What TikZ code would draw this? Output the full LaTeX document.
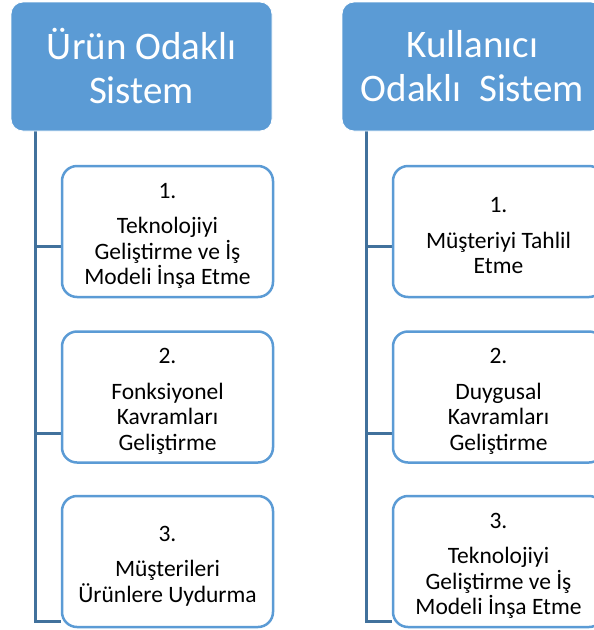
\documentclass[tikz,border=0pt]{standalone}
\usepackage{fontspec}
\setmainfont{Carlito}
\usetikzlibrary{backgrounds}
\definecolor{hdrblue}{HTML}{5B9BD5}
\definecolor{connblue}{HTML}{41719C}
\newcommand{\toppad}{\rule{0pt}{24pt}}
\begin{document}
\begin{tikzpicture}[x=1pt,y=-1pt,
  header/.style={rectangle, rounded corners=12pt, fill=hdrblue, draw=white, line width=0.8pt,
    text=white, minimum width=261pt, minimum height=129pt, align=center,
    font=\fontsize{39}{44}\selectfont, inner sep=0pt},
  itembox/.style={rectangle, rounded corners=15pt, draw=hdrblue, line width=2.5pt, fill=white,
    minimum width=211pt, minimum height=131pt, align=center,
    font=\fontsize{23.5}{25.5}\selectfont, inner sep=0pt},
  conn/.style={draw=connblue, line width=3pt}]
\useasboundingbox (0,0) rectangle (594,630);
\clip (0,0) rectangle (594,630);
% left column
\node[header] (Lh) at (141.5,66.5) {Ürün Odaklı\\Sistem};
\node[itembox] (L1) at (167.5,231.5) {\toppad 1.\\[10pt]Teknolojiyi\\Geliştirme ve İş\\Modeli İnşa Etme};
\node[itembox] (L2) at (167.5,397) {\toppad 2.\\[10pt]Fonksiyonel\\Kavramları\\Geliştirme};
\node[itembox] (L3) at (167.5,561.5) {\toppad 3.\\[10pt]Müşterileri\\Ürünlere Uydurma};
% right column
\node[header] (Rh) at (472.5,66.5) {Kullanıcı\\Odaklı\ \ Sistem};
\node[itembox] (R1) at (498.5,231.5) {\toppad 1.\\[10pt]Müşteriyi Tahlil\\Etme};
\node[itembox] (R2) at (498.5,397) {\toppad 2.\\[10pt]Duygusal\\Kavramları\\Geliştirme};
\node[itembox] (R3) at (498.5,561.5) {\toppad 3.\\[10pt]Teknolojiyi\\Geliştirme ve İş\\Modeli İnşa Etme};
% connector points
\coordinate (Lt) at ([xshift=25pt]Lh.south west);
\coordinate (Rt) at ([xshift=25pt]Rh.south west);
\coordinate (L1c) at ([yshift=-14.5pt]L1.west);
\coordinate (L2c) at ([yshift=-36pt]L2.west);
\coordinate (L3c) at ([yshift=-59.5pt]L3.west);
\coordinate (R1c) at ([yshift=-14.5pt]R1.west);
\coordinate (R2c) at ([yshift=-36pt]R2.west);
\coordinate (R3c) at ([yshift=-59.5pt]R3.west);
\begin{scope}[on background layer]
\draw[conn] (Lt) |- (L3c);
\draw[conn] (L1c) -- (L1c -| Lt);
\draw[conn] (L2c) -- (L2c -| Lt);
\draw[conn] (Rt) |- (R3c);
\draw[conn] (R1c) -- (R1c -| Rt);
\draw[conn] (R2c) -- (R2c -| Rt);
\end{scope}
\end{tikzpicture}
\end{document}
